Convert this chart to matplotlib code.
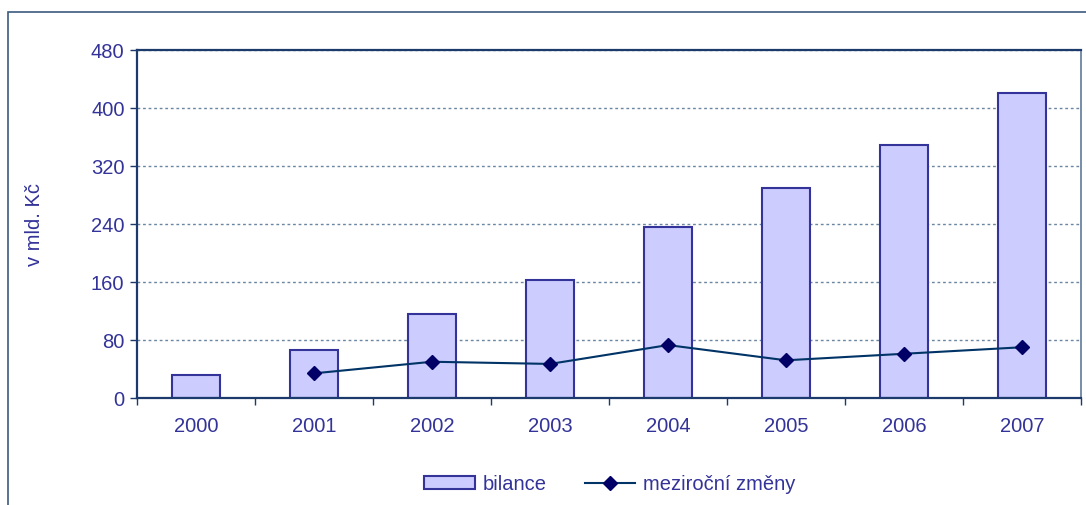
import matplotlib
matplotlib.use("Agg")
from matplotlib import pyplot as plt
from matplotlib.patches import Rectangle
from matplotlib.lines import Line2D
import numpy as np

# Chart data
years = ["2000", "2001", "2002", "2003", "2004", "2005", "2006", "2007"]
bilance = [32, 66, 116, 163, 236, 290, 349, 421]
zmeny_years = ["2001", "2002", "2003", "2004", "2005", "2006", "2007"]
zmeny = [34, 50, 47, 73, 52, 61, 70]

plt.rcParams["font.family"] = ["Liberation Sans", "DejaVu Sans"]
text_col = "#333399"
axis_col = "#1c3a6b"
fs = 14.5

fig = plt.figure(figsize=(10.86, 5.05), dpi=100)
W, H = 1086, 505

# Outer frame (cropped chart box)
fig.patches.append(
    Rectangle((8 / W, -0.1), 1.2, (H - 12) / H + 0.1, transform=fig.transFigure,
              fill=False, edgecolor="#3d5a80", linewidth=1.2)
)

ax = fig.add_axes([137 / W, 1 - 398 / H, (1081 - 137) / W, (398 - 50) / H])

x = np.arange(len(years))
ax.bar(x, bilance, width=0.41, color="#ccccff", edgecolor=text_col,
       linewidth=1.5, zorder=2)
xl = [years.index(y) for y in zmeny_years]
ax.plot(xl, zmeny, color="#003366", linewidth=1.5, marker="D", markersize=7,
        markerfacecolor="#000066", markeredgecolor="#000066", zorder=3)

ax.set_xlim(-0.5, len(years) - 0.5)
ax.set_ylim(0, 480)
ax.set_yticks(np.arange(0, 481, 80))
ax.yaxis.grid(True, linestyle=(0, (2, 2)), color="#6b86a3", linewidth=1.0)
ax.set_axisbelow(True)

# Category ticks at boundaries, labels at centers
ax.set_xticks(np.arange(-0.5, len(years), 1.0))
ax.set_xticklabels([])
ax.set_xticks(x, minor=True)
ax.set_xticklabels(years, minor=True)
ax.tick_params(axis="x", which="major", direction="out", length=5,
               color=axis_col, width=1)
ax.tick_params(axis="x", which="minor", length=0, pad=14,
               labelsize=fs, labelcolor=text_col)
ax.tick_params(axis="y", direction="out", length=5, color=axis_col, width=1,
               labelsize=fs, labelcolor=text_col, pad=4)

for side in ["left", "bottom", "top"]:
    ax.spines[side].set_color(axis_col)
    ax.spines[side].set_linewidth(1.6)
ax.spines["right"].set_color("#5f7a99")
ax.spines["right"].set_linewidth(1.2)

fig.text(35 / W, 1 - 225 / H, "v mld. Kč", color=text_col, fontsize=fs,
         rotation=90, ha="center", va="center")

handles = [
    Rectangle((0, 0), 1, 1, facecolor="#ccccff", edgecolor=text_col, linewidth=1.5),
    Line2D([], [], color="#003366", linewidth=1.5, marker="D", markersize=7,
           markerfacecolor="#000066", markeredgecolor="#000066"),
]
leg = fig.legend(handles, ["bilance", "meziroční změny"], loc="center",
                 bbox_to_anchor=(610 / W, 1 - 484 / H), ncol=2, frameon=False,
                 fontsize=fs, handlelength=2.5, handleheight=0.6,
                 columnspacing=1.9, handletextpad=0.4)
for t in leg.get_texts():
    t.set_color(text_col)

plt.savefig("out.png", dpi=100)
